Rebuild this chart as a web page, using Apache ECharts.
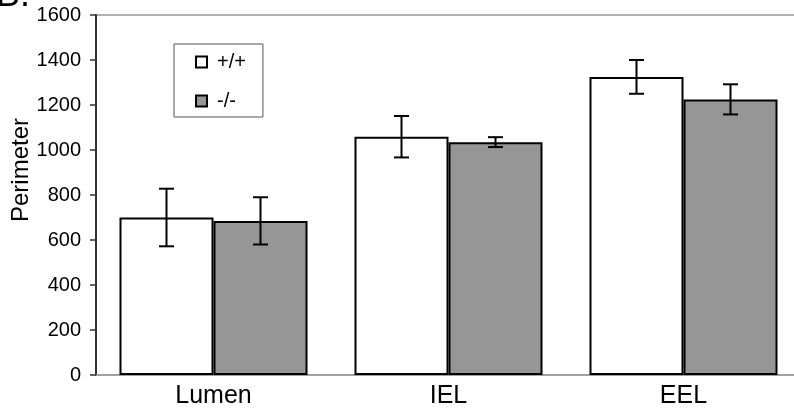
<!DOCTYPE html>
<html>
<head>
<meta charset="utf-8">
<script src="https://cdn.jsdelivr.net/npm/echarts@6/dist/echarts.min.js"></script>
<style>html,body{margin:0;padding:0;background:#fff}#c{width:794px;height:414px}</style>
</head>
<body>
<div id="c"></div>
<script>
var categories = ['Lumen', 'IEL', 'EEL'];
var seriesNames = ['+/+', '-/-'];
var wtValues = [700, 1059, 1325];
var wtErrors = [128, 92, 75];
var koValues = [685, 1035, 1225];
var koErrors = [105, 22, 67];
var yTicks = [0, 200, 400, 600, 800, 1000, 1200, 1400, 1600];

var chart = echarts.init(document.getElementById('c'), null, {renderer: 'canvas'});
var FONT = 'Liberation Sans, Arial, sans-serif';

function errData(vals, errs) {
  return vals.map(function (v, i) { return [i, v - errs[i], v + errs[i]]; });
}
function errSeries(vals, errs, side) {
  return {
    type: 'custom',
    silent: true,
    z: 10,
    data: errData(vals, errs),
    encode: {x: 0, y: [1, 2]},
    renderItem: function (params, api) {
      var idx = api.value(0);
      var lo = api.coord([idx, api.value(1)]);
      var hi = api.coord([idx, api.value(2)]);
      var band = api.size([1, 0])[0];
      var barW = band * 0.8 / 2;
      var x = lo[0] + side * barW / 2;
      var cap = 7.5;
      var st = {stroke: '#000', lineWidth: 2};
      return {
        type: 'group',
        children: [
          {type: 'line', shape: {x1: x, y1: lo[1], x2: x, y2: hi[1]}, style: st},
          {type: 'line', shape: {x1: x - cap, y1: lo[1], x2: x + cap, y2: lo[1]}, style: st},
          {type: 'line', shape: {x1: x - cap, y1: hi[1], x2: x + cap, y2: hi[1]}, style: st}
        ]
      };
    }
  };
}

chart.setOption({
  animation: false,
  backgroundColor: '#fff',
  textStyle: {fontFamily: FONT},
  grid: {left: 96, top: 15, width: 705, bottom: 39, outerBoundsMode: 'none', containLabel: false,
    show: true, borderColor: '#999', borderWidth: 1.5},
  graphic: [
    {type: 'text', left: -4, top: -22, style: {text: 'B.', font: '36px ' + FONT, fill: '#000'}},
    {type: 'text', x: 21, y: 170, rotation: Math.PI / 2, style: {text: 'Perimeter', font: '24px ' + FONT, fill: '#000', align: 'center', verticalAlign: 'middle'}}
  ],
  legend: {
    orient: 'vertical',
    left: 174,
    top: 44,
    padding: [8, 17, 6, 21],
    itemGap: 19,
    itemWidth: 11,
    itemHeight: 11,
    borderColor: '#555',
    borderWidth: 1,
    backgroundColor: '#fff',
    textStyle: {fontSize: 20, fontFamily: FONT, color: '#000', padding: [0, 0, 0, 5]},
    data: [
      {name: seriesNames[0], icon: 'rect'},
      {name: seriesNames[1], icon: 'rect'}
    ]
  },
  xAxis: {
    type: 'category',
    data: categories,
    axisLine: {lineStyle: {color: '#999', width: 1.5}},
    axisTick: {show: false},
    axisLabel: {fontSize: 25, color: '#000', fontFamily: FONT, margin: 9}
  },
  yAxis: {
    type: 'value',
    min: 0,
    max: 1600,
    interval: 200,
    splitLine: {show: false},
    axisLine: {show: true, lineStyle: {color: '#333', width: 2}},
    axisTick: {show: true, length: 6, lineStyle: {color: '#333', width: 1.5}},
    axisLabel: {fontSize: 20, color: '#000', fontFamily: FONT, margin: 15,
      formatter: function (v) { return yTicks.indexOf(v) >= 0 ? String(v) : ''; }}
  },
  series: [
    {
      name: seriesNames[0], type: 'bar', data: wtValues,
      barGap: '0%', barCategoryGap: '20%',
      itemStyle: {color: '#fff', borderColor: '#000', borderWidth: 2}
    },
    {
      name: seriesNames[1], type: 'bar', data: koValues,
      barGap: '0%', barCategoryGap: '20%',
      itemStyle: {color: '#969696', borderColor: '#000', borderWidth: 2}
    },
    errSeries(wtValues, wtErrors, -1),
    errSeries(koValues, koErrors, 1)
  ]
});
</script>
</body>
</html>
